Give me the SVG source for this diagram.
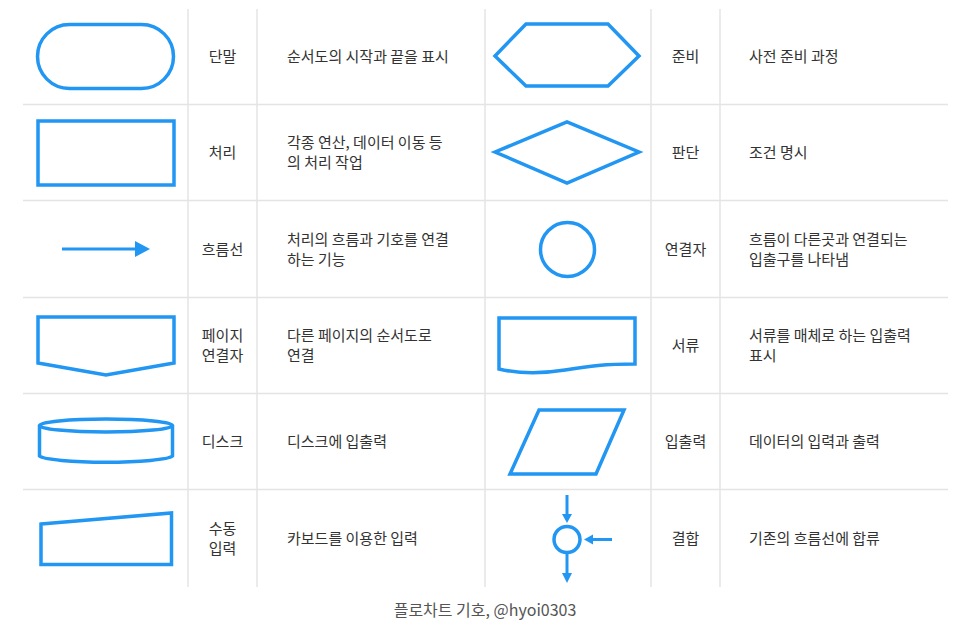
<svg xmlns="http://www.w3.org/2000/svg" width="967" height="628" viewBox="0 0 967 628">
<defs>
<style>
.grid{stroke:#e4e4e4;stroke-width:1.5;fill:none}
.sym{stroke:#2196f3;stroke-width:3.5;fill:none;stroke-linejoin:miter}
.line{stroke:#2196f3;stroke-width:3;fill:none}
.head{fill:#2196f3;stroke:none}
text{font-family:"Noto Sans CJK KR","Noto Sans",sans-serif;font-size:15px;fill:#333}
.lbl{text-anchor:middle}
.cap{font-size:16px;fill:#555;text-anchor:middle}
</style>
</defs>
<rect width="967" height="628" fill="#fff"/>
<g id="grid" class="grid">
<line x1="188" y1="9" x2="188" y2="587"/>
<line x1="257" y1="9" x2="257" y2="587"/>
<line x1="485" y1="9" x2="485" y2="587"/>
<line x1="651" y1="9" x2="651" y2="587"/>
<line x1="720" y1="9" x2="720" y2="587"/>
<line x1="23" y1="104.5" x2="948" y2="104.5"/>
<line x1="23" y1="200.5" x2="948" y2="200.5"/>
<line x1="23" y1="297.5" x2="948" y2="297.5"/>
<line x1="23" y1="393.5" x2="948" y2="393.5"/>
<line x1="23" y1="489.5" x2="948" y2="489.5"/>
</g>
<g id="terminal">
<rect class="sym" x="37.5" y="24.5" width="136" height="64" rx="32"/>
<text class="lbl" x="222.5" y="61.5">단말</text>
<text x="287" y="61.5">순서도의 시작과 끝을 표시</text>
</g>
<g id="preparation">
<polygon class="sym" points="495,56 526,24 608,24 639,56 608,86 526,86"/>
<text class="lbl" x="685.5" y="61.5">준비</text>
<text x="749" y="61.5">사전 준비 과정</text>
</g>
<g id="process">
<rect class="sym" x="38" y="121" width="136" height="64"/>
<text class="lbl" x="222.5" y="157.5">처리</text>
<text x="287" y="148">각종 연산, 데이터 이동 등</text>
<text x="287" y="168">의 처리 작업</text>
</g>
<g id="decision">
<polygon class="sym" points="495,152 567,122 639,152 567,183"/>
<text class="lbl" x="685.5" y="157.5">판단</text>
<text x="749" y="157.5">조건 명시</text>
</g>
<g id="flowline">
<line class="line" x1="62" y1="249" x2="137" y2="249"/>
<polygon class="head" points="135,241 150,249 135,257"/>
<text class="lbl" x="222.5" y="254.5">흐름선</text>
<text x="287" y="244.5">처리의 흐름과 기호를 연결</text>
<text x="287" y="264.5">하는 기능</text>
</g>
<g id="connector">
<circle class="sym" cx="567.5" cy="249.5" r="27"/>
<text class="lbl" x="685.5" y="254.5">연결자</text>
<text x="749" y="244.5">흐름이 다른곳과 연결되는</text>
<text x="749" y="264.5">입출구를 나타냄</text>
</g>
<g id="offpage">
<polygon class="sym" points="38,317 174,317 174,363 106,375 38,363"/>
<text class="lbl" x="222.5" y="341">페이지</text>
<text class="lbl" x="222.5" y="361">연결자</text>
<text x="287" y="341">다른 페이지의 순서도로</text>
<text x="287" y="361">연결</text>
</g>
<g id="document">
<path class="sym" d="M499,318 H635 V364 C605,364 590,366 565,370 C540,374 520,374 499,369 Z"/>
<text class="lbl" x="685.5" y="351">서류</text>
<text x="749" y="341">서류를 매체로 하는 입출력</text>
<text x="749" y="361">표시</text>
</g>
<g id="disk">
<path class="sym" d="M39.5,425.5 V456 A67,7 0 0 0 172.5,456 V425.5"/>
<ellipse class="sym" cx="106" cy="425.5" rx="66.5" ry="6.5"/>
<text class="lbl" x="222.5" y="446.5">디스크</text>
<text x="287" y="446.5">디스크에 입출력</text>
</g>
<g id="io">
<polygon class="sym" points="539,410 624,410 596,474 510,474"/>
<text class="lbl" x="685.5" y="446.5">입출력</text>
<text x="749" y="446.5">데이터의 입력과 출력</text>
</g>
<g id="manual">
<polygon class="sym" points="41,524 171.5,513 171.5,564.5 41,564.5"/>
<text class="lbl" x="222.5" y="534">수동</text>
<text class="lbl" x="222.5" y="554">입력</text>
<text x="287" y="543.5">카보드를 이용한 입력</text>
</g>
<g id="merge">
<circle class="sym" cx="567" cy="539.5" r="13" stroke-width="3"/>
<text class="lbl" x="685.5" y="543.5">결합</text>
<text x="749" y="543.5">기존의 흐름선에 합류</text>
</g>
<g id="connectors">
<line class="line" x1="567" y1="495" x2="567" y2="516"/>
<polygon class="head" points="562,514 572,514 567,523"/>
<line class="line" x1="612" y1="539.5" x2="591" y2="539.5"/>
<polygon class="head" points="593,534.5 593,544.5 584,539.5"/>
<line class="line" x1="567" y1="554" x2="567" y2="575"/>
<polygon class="head" points="562,573 572,573 567,583"/>
</g>
<text class="cap" x="485" y="616">플로차트 기호, @hyoi0303</text>
</svg>
